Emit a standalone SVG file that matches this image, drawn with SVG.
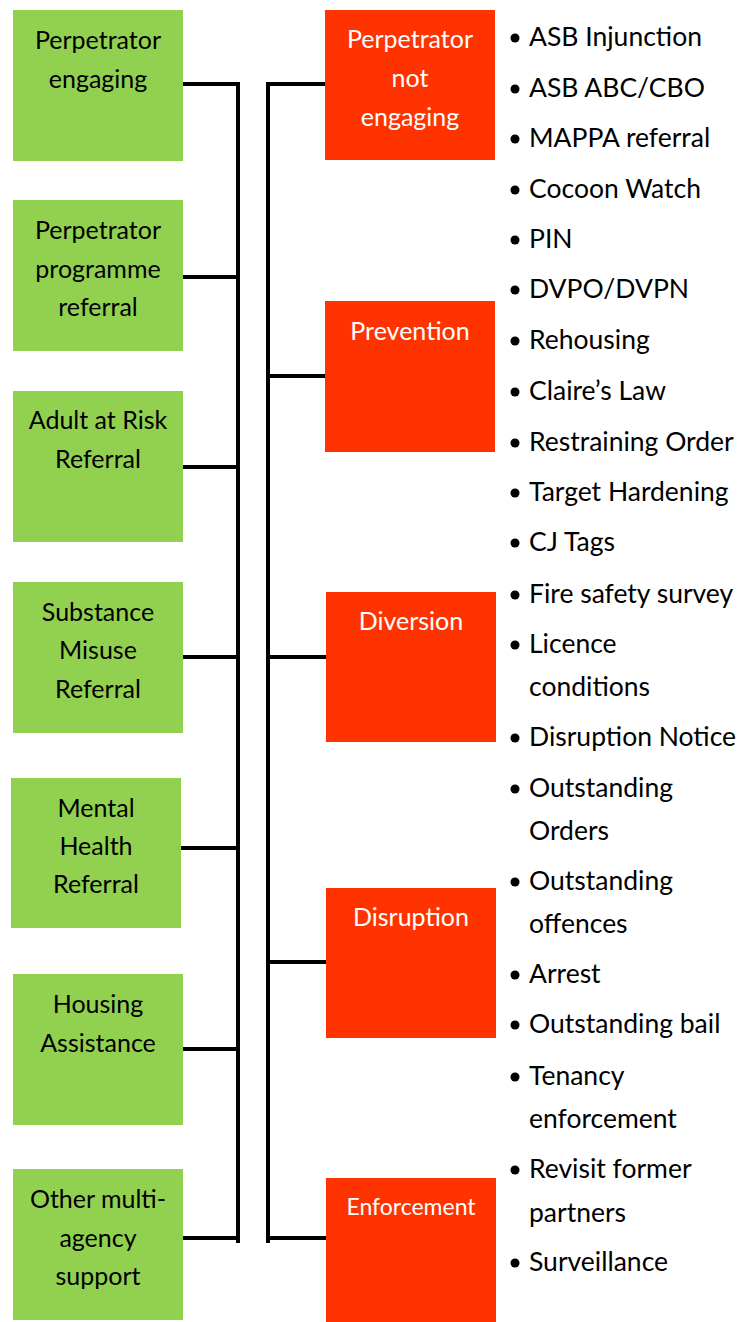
<svg xmlns="http://www.w3.org/2000/svg" width="740" height="1322" viewBox="0 0 740 1322">
<style>
.g{fill:#92D050}
.r{fill:#FF3300}
text{font-family:Lato,"Noto Sans",sans-serif;font-size:25px}
.gt{fill:#000;text-anchor:middle}
.rt{fill:#fff;text-anchor:middle}
.en{font-size:23px}
.li{fill:#000;font-size:26.5px}
.b{fill:#000}
.ln{stroke:#000;stroke-width:4;fill:none}
</style>
<rect width="740" height="1322" fill="#fff"/>
<g id="connectors">
<path class="ln" d="M238 82V1243M183 84H238M183 277H238M183 467H238M183 657H238M181 848H238M183 1049H238M183 1238H238"/>
<path class="ln" d="M268 82V1243M268 84H326M268 376H326M268 657H326M268 962H326M268 1238H326"/>
</g>
<g id="g1"><rect class="g" x="13" y="10" width="170" height="151"/><text class="gt" x="98" y="49">Perpetrator</text><text class="gt" x="98" y="88">engaging</text></g>
<g id="g2"><rect class="g" x="13" y="200" width="170" height="151"/><text class="gt" x="98" y="239">Perpetrator</text><text class="gt" x="98" y="278">programme</text><text class="gt" x="98" y="316">referral</text></g>
<g id="g3"><rect class="g" x="13" y="391" width="170" height="151"/><text class="gt" x="98" y="429">Adult at Risk</text><text class="gt" x="98" y="468">Referral</text></g>
<g id="g4"><rect class="g" x="13" y="582" width="170" height="151"/><text class="gt" x="98" y="621">Substance</text><text class="gt" x="98" y="659">Misuse</text><text class="gt" x="98" y="698">Referral</text></g>
<g id="g5"><rect class="g" x="11" y="778" width="170" height="150"/><text class="gt" x="96" y="817">Mental</text><text class="gt" x="96" y="855">Health</text><text class="gt" x="96" y="893">Referral</text></g>
<g id="g6"><rect class="g" x="13" y="974" width="170" height="151"/><text class="gt" x="98" y="1013">Housing</text><text class="gt" x="98" y="1052">Assistance</text></g>
<g id="g7"><rect class="g" x="13" y="1169" width="170" height="151"/><text class="gt" x="98" y="1208">Other multi-</text><text class="gt" x="98" y="1247">agency</text><text class="gt" x="98" y="1285">support</text></g>
<g id="r1"><rect class="r" x="325" y="10" width="170" height="150"/><text class="rt" x="410" y="48">Perpetrator</text><text class="rt" x="410" y="87">not</text><text class="rt" x="410" y="126">engaging</text></g>
<g id="r2"><rect class="r" x="325" y="301" width="170" height="151"/><text class="rt" x="410" y="340">Prevention</text></g>
<g id="r3"><rect class="r" x="326" y="592" width="170" height="150"/><text class="rt" x="411" y="630">Diversion</text></g>
<g id="r4"><rect class="r" x="326" y="888" width="170" height="150"/><text class="rt" x="411" y="926">Disruption</text></g>
<g id="r5"><rect class="r" x="326" y="1178" width="170" height="144"/><text class="rt en" x="411" y="1215">Enforcement</text></g>
<g id="list">
<circle class="b" cx="515" cy="38" r="4.5"/><text class="li" x="529" y="46">ASB Injunction</text>
<circle class="b" cx="515" cy="89" r="4.5"/><text class="li" x="529" y="97">ASB ABC/CBO</text>
<circle class="b" cx="515" cy="139" r="4.5"/><text class="li" x="529" y="147">MAPPA referral</text>
<circle class="b" cx="515" cy="190" r="4.5"/><text class="li" x="529" y="198">Cocoon Watch</text>
<circle class="b" cx="515" cy="240" r="4.5"/><text class="li" x="529" y="248">PIN</text>
<circle class="b" cx="515" cy="290" r="4.5"/><text class="li" x="529" y="298">DVPO/DVPN</text>
<circle class="b" cx="515" cy="341" r="4.5"/><text class="li" x="529" y="349">Rehousing</text>
<circle class="b" cx="515" cy="392" r="4.5"/><text class="li" x="529" y="400">Claire’s Law</text>
<circle class="b" cx="515" cy="443" r="4.5"/><text class="li" x="529" y="451">Restraining Order</text>
<circle class="b" cx="515" cy="493" r="4.5"/><text class="li" x="529" y="501">Target Hardening</text>
<circle class="b" cx="515" cy="543" r="4.5"/><text class="li" x="529" y="551">CJ Tags</text>
<circle class="b" cx="515" cy="595" r="4.5"/><text class="li" x="529" y="603">Fire safety survey</text>
<circle class="b" cx="515" cy="645" r="4.5"/><text class="li" x="529" y="653">Licence</text><text class="li" x="529" y="696">conditions</text>
<circle class="b" cx="515" cy="738" r="4.5"/><text class="li" x="529" y="746">Disruption Notice</text>
<circle class="b" cx="515" cy="789" r="4.5"/><text class="li" x="529" y="797">Outstanding</text><text class="li" x="529" y="840">Orders</text>
<circle class="b" cx="515" cy="882" r="4.5"/><text class="li" x="529" y="890">Outstanding</text><text class="li" x="529" y="933">offences</text>
<circle class="b" cx="515" cy="975" r="4.5"/><text class="li" x="529" y="983">Arrest</text>
<circle class="b" cx="515" cy="1025" r="4.5"/><text class="li" x="529" y="1033">Outstanding bail</text>
<circle class="b" cx="515" cy="1077" r="4.5"/><text class="li" x="529" y="1085">Tenancy</text><text class="li" x="529" y="1128">enforcement</text>
<circle class="b" cx="515" cy="1170" r="4.5"/><text class="li" x="529" y="1178">Revisit former</text><text class="li" x="529" y="1222">partners</text>
<circle class="b" cx="515" cy="1263" r="4.5"/><text class="li" x="529" y="1271">Surveillance</text>
</g>
</svg>
